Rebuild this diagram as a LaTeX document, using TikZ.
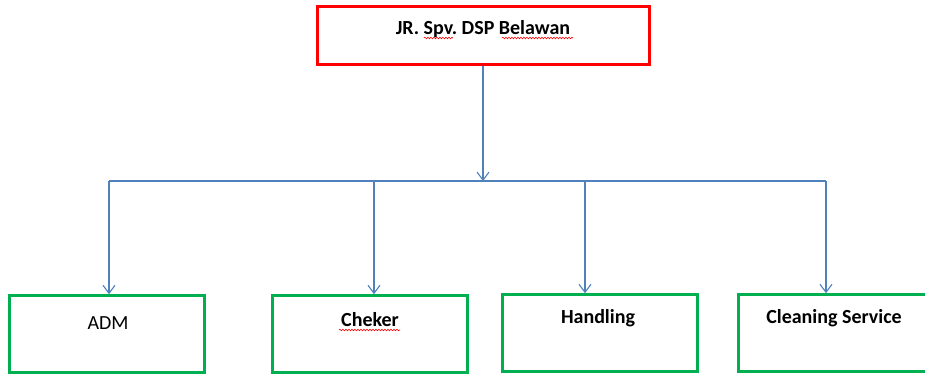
\documentclass[tikz,border=0pt]{standalone}
\usepackage{fontspec}
\setmainfont{Carlito}
\usetikzlibrary{arrows.meta,decorations.pathmorphing}
\definecolor{lineblue}{RGB}{79,129,189}
\definecolor{boxgreen}{RGB}{0,176,80}
\frenchspacing
\begin{document}
\begin{tikzpicture}[x=1pt,y=-1pt,
  topbox/.style={draw=red,line width=2.6pt,minimum width=332pt,minimum height=58pt,inner sep=0pt},
  subbox/.style={draw=boxgreen,line width=2.6pt,minimum width=195pt,minimum height=77pt,inner sep=0pt},
  lbl/.style={font=\fontsize{20}{24}\selectfont, inner sep=0pt},
  blbl/.style={font=\bfseries\fontsize{20}{24}\selectfont, inner sep=0pt},
  conn/.style={draw=lineblue,line width=1.1pt},
  arr/.style={conn,-{Straight Barb[length=8pt,width=12pt,line width=1.1pt]}},
  spell/.style={draw=red,line width=0.6pt,decorate,decoration={snake,amplitude=0.8pt,segment length=3pt}}]
\useasboundingbox (0,0) rectangle (925,374);
\fill[white] (0,0) rectangle (925,374);
% boxes
\node[topbox] (top) at (483.5,35.5) {};
\node[blbl] (toptxt) at (483,29) {JR. Spv. DSP Belawan};
\node[subbox] (adm) at (107,334) {};
\node[subbox] (chk) at (370,334) {};
\node[subbox,minimum height=77pt] (hnd) at (600,333) {};
\node[subbox,minimum height=77pt] (cln) at (836,333) {};
\node[lbl] (admtxt) at (108,323) {ADM};
\node[blbl] (chktxt) at (370,320) {Cheker};
\node[blbl] (hndtxt) at (598,318) {Handling};
\node[blbl] (clntxt) at (834,318) {Cleaning Service};
% spell-check underlines
\draw[spell] (424,38) -- (453,38);
\draw[spell] (502,38) -- (573,38);
\draw[spell] (339,330) -- (400,330);
% connectors
\coordinate (hub) at (483,181);
\coordinate (hl) at (109,181);
\coordinate (hr) at (826,181);
\coordinate (c1) at (109,181);
\coordinate (c2) at (374,181);
\coordinate (c3) at (585,181);
\coordinate (c4) at (826,181);
\draw[arr] (top.south -| hub) -- (hub);
\draw[conn] (hl) -- (hr);
\draw[arr] (c1) -- (c1 |- adm.north);
\draw[arr] (c2) -- (c2 |- chk.north);
\draw[arr] (c3) -- (c3 |- hnd.north);
\draw[arr] (c4) -- (c4 |- cln.north);
\end{tikzpicture}
\end{document}
